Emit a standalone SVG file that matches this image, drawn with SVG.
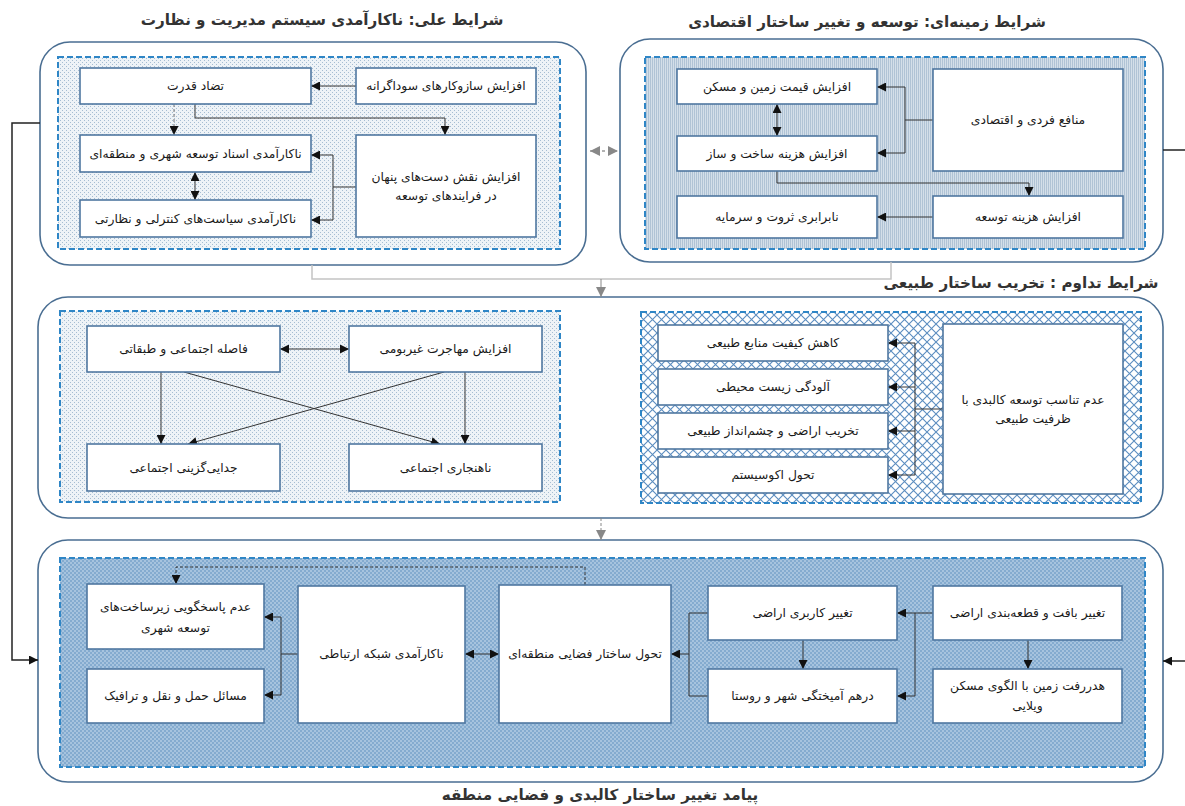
<svg xmlns="http://www.w3.org/2000/svg" width="1185" height="806" viewBox="0 0 1185 806">
<defs>
<style>
.panel{fill:#fff;stroke:#4a6e92;stroke-width:1.6}
.inner{stroke:#2f86c6;stroke-width:2;stroke-dasharray:6 3}
.box{fill:#fff;stroke:#4f77a0;stroke-width:1.6}
.t{font-family:"DejaVu Sans",sans-serif;font-size:12.3px;fill:#1a1a1a;text-anchor:middle;dominant-baseline:central}
.title{font-family:"DejaVu Sans",sans-serif;font-size:15.2px;font-weight:bold;fill:#333;text-anchor:middle;dominant-baseline:central}
.c{fill:none;stroke:#333;stroke-width:1}
.ce{fill:none;stroke:#333;stroke-width:1;marker-end:url(#ah)}
.cb{fill:none;stroke:#333;stroke-width:1;marker-end:url(#ah);marker-start:url(#ah)}
</style>
<marker id="ah" viewBox="0 0 10 10" refX="10" refY="5" markerWidth="9" markerHeight="9" orient="auto-start-reverse" markerUnits="userSpaceOnUse"><path d="M0,0 L10,5 L0,10 z" fill="#111"/></marker>
<marker id="ahg" viewBox="0 0 10 10" refX="10" refY="5" markerWidth="10" markerHeight="10" orient="auto-start-reverse" markerUnits="userSpaceOnUse"><path d="M0,0 L10,5 L0,10 z" fill="#888"/></marker>
<pattern id="pLight" width="4" height="4" patternUnits="userSpaceOnUse"><rect width="4" height="4" fill="#eef3f7"/><rect width="1" height="1" fill="#a6bdd2"/><rect x="2" y="2" width="1" height="1" fill="#a6bdd2"/></pattern>
<pattern id="pMid" width="2" height="2" patternUnits="userSpaceOnUse"><rect width="2" height="2" fill="#d4dfe9"/><rect width="1" height="2" fill="#b0c3d5"/></pattern>
<pattern id="pCross" width="9" height="9" patternUnits="userSpaceOnUse"><rect width="9" height="9" fill="#fff"/><path d="M0,0 L9,9 M9,0 L0,9" stroke="#5b8dc0" stroke-width="1.1"/></pattern>
<pattern id="pDark" width="4" height="4" patternUnits="userSpaceOnUse"><rect width="4" height="4" fill="#84abcf"/><rect width="2" height="2" fill="#a6c3de"/><rect x="2" y="2" width="2" height="2" fill="#a6c3de"/></pattern>
</defs>
<rect width="1185" height="806" fill="#fff"/>

<!-- titles -->
<text class="title" x="322" y="20">شرایط علی: ناکارآمدی سیستم مدیریت و نظارت</text>
<text class="title" x="867" y="22">شرایط زمینه‌ای: توسعه و تغییر ساختار اقتصادی</text>
<text class="title" x="1021" y="283">شرایط تداوم : تخریب ساختار طبیعی</text>
<text class="title" x="600" y="795">پیامد تغییر ساختار کالبدی و فضایی منطقه</text>

<!-- panels -->
<g id="panel-causal">
<rect class="panel" x="40" y="42" width="546" height="223" rx="30"/>
<rect class="inner" x="58" y="57" width="502" height="192" fill="url(#pLight)"/>
</g>
<g id="panel-context">
<rect class="panel" x="620" y="39" width="543" height="223" rx="30"/>
<rect class="inner" x="645" y="57" width="500" height="192" fill="url(#pMid)"/>
</g>
<g id="panel-persist">
<rect class="panel" x="38" y="297" width="1125" height="221" rx="30"/>
<rect class="inner" x="60" y="311" width="500" height="191" fill="url(#pLight)"/>
<rect class="inner" x="641" y="312" width="500" height="191" fill="url(#pCross)"/>
</g>
<g id="panel-outcome">
<rect class="panel" x="38" y="540" width="1125" height="242" rx="30"/>
<rect class="inner" x="60" y="558" width="1085" height="209" fill="url(#pDark)"/>
</g>

<!-- connectors -->
<g id="connectors">
<path class="ce" d="M356,86 H311"/>
<path d="M174,104 V135" fill="none" stroke="#777" stroke-width="1" stroke-dasharray="3 2" marker-end="url(#ah)"/>
<path class="ce" d="M195,104 V118 H445 V135"/>
<path class="cb" d="M195,172 V200"/>
<path class="c" d="M356,187 H333 M333,155 V220"/>
<path class="ce" d="M333,155 H311"/>
<path class="ce" d="M333,220 H311"/>
<path d="M590,151 H618" fill="none" stroke="#999" stroke-width="1.5" stroke-dasharray="3 3" marker-start="url(#ahg)" marker-end="url(#ahg)"/>

<path class="c" d="M933,120 H905 M905,87 V153"/>
<path class="ce" d="M905,87 H877"/>
<path class="ce" d="M905,153 H877"/>
<path class="cb" d="M777,104 V136"/>
<path class="ce" d="M777,171 V183 H1029 V196"/>
<path class="ce" d="M933,217 H877"/>

<path d="M312,265 V279 H891 V262" fill="none" stroke="#c4c4c4" stroke-width="1.5"/>
<path d="M601,279 V297" fill="none" stroke="#888" stroke-width="1" marker-end="url(#ahg)"/>

<path d="M40,123 H12 V660 H38" fill="none" stroke="#222" stroke-width="1.5" marker-end="url(#ah)"/>
<path d="M1163,150 H1185" fill="none" stroke="#222" stroke-width="1.5"/>
<path d="M1185,661 H1163" fill="none" stroke="#222" stroke-width="1.5" marker-end="url(#ah)"/>

<path class="cb" d="M280,349 H349"/>
<path class="ce" d="M161,372 V444"/>
<path class="ce" d="M465,372 V444"/>
<path class="ce" d="M184,372 L440,444"/>
<path class="ce" d="M444,372 L188,444"/>

<path class="c" d="M943,409 H915 M915,343 V475"/>
<path class="ce" d="M915,343 H888"/>
<path class="ce" d="M915,387 H888"/>
<path class="ce" d="M915,431 H888"/>
<path class="ce" d="M915,475 H888"/>

<path d="M601,518 V540" fill="none" stroke="#888" stroke-width="1" stroke-dasharray="3 2" marker-end="url(#ahg)"/>

<path class="c" d="M298,654 H281 M281,617 V695"/>
<path class="ce" d="M281,617 H264"/>
<path class="ce" d="M281,695 H264"/>
<path class="cb" d="M465,654 H499"/>
<path d="M585,585 V567 H176 V584" fill="none" stroke="#333" stroke-width="1" stroke-dasharray="3 2" marker-end="url(#ah)"/>
<path class="ce" d="M933,613 H897"/>
<path class="ce" d="M915,613 V696 H897"/>
<path class="ce" d="M1028,640 V669"/>
<path class="ce" d="M803,640 V669"/>
<path class="c" d="M708,613 H689 V696 H708"/>
<path class="ce" d="M689,654 H671"/>
</g>

<!-- nodes: causal -->
<g id="n-power"><rect class="box" x="80" y="68" width="231" height="36"/><text class="t" x="195.5" y="86">تضاد قدرت</text></g>
<g id="n-speculation"><rect class="box" x="356" y="68" width="180" height="36"/><text class="t" x="446" y="86">افزایش سازوکارهای سوداگرانه</text></g>
<g id="n-docs"><rect class="box" x="80" y="135" width="231" height="37"/><text class="t" x="195.5" y="153.5">ناکارآمدی اسناد توسعه شهری و منطقه‌ای</text></g>
<g id="n-policies"><rect class="box" x="80" y="200" width="231" height="37"/><text class="t" x="195.5" y="218.5">ناکارآمدی سیاست‌های کنترلی و نظارتی</text></g>
<g id="n-hidden"><rect class="box" x="356" y="135" width="180" height="102"/><text class="t" x="446" y="177">افزایش نقش دست‌های پنهان</text><text class="t" x="446" y="196">در فرایندهای توسعه</text></g>

<!-- nodes: context -->
<g id="n-landprice"><rect class="box" x="677" y="69" width="200" height="35"/><text class="t" x="777" y="86.5">افزایش قیمت زمین و مسکن</text></g>
<g id="n-buildcost"><rect class="box" x="677" y="136" width="200" height="35"/><text class="t" x="777" y="153.5">افزایش هزینه ساخت و ساز</text></g>
<g id="n-inequality"><rect class="box" x="677" y="196" width="200" height="42"/><text class="t" x="777" y="217">نابرابری ثروت و سرمایه</text></g>
<g id="n-interests"><rect class="box" x="933" y="69" width="190" height="102"/><text class="t" x="1028" y="120">منافع فردی و اقتصادی</text></g>
<g id="n-devcost"><rect class="box" x="933" y="196" width="190" height="42"/><text class="t" x="1028" y="217">افزایش هزینه توسعه</text></g>

<!-- nodes: persistence social -->
<g id="n-distance"><rect class="box" x="87" y="326" width="193" height="46"/><text class="t" x="183.5" y="349">فاصله اجتماعی و طبقاتی</text></g>
<g id="n-migration"><rect class="box" x="349" y="326" width="193" height="46"/><text class="t" x="445.5" y="349">افزایش مهاجرت غیربومی</text></g>
<g id="n-segregation"><rect class="box" x="87" y="444" width="193" height="47"/><text class="t" x="183.5" y="467.5">جدایی‌گزینی اجتماعی</text></g>
<g id="n-anomie"><rect class="box" x="349" y="444" width="193" height="47"/><text class="t" x="445.5" y="467.5">ناهنجاری اجتماعی</text></g>

<!-- nodes: persistence natural -->
<g id="n-resources"><rect class="box" x="658" y="325" width="230" height="36"/><text class="t" x="773" y="343">کاهش کیفیت منابع طبیعی</text></g>
<g id="n-pollution"><rect class="box" x="658" y="369" width="230" height="36"/><text class="t" x="773" y="387">آلودگی زیست محیطی</text></g>
<g id="n-landscape"><rect class="box" x="658" y="413" width="230" height="36"/><text class="t" x="773" y="431">تخریب اراضی و چشم‌انداز طبیعی</text></g>
<g id="n-ecosystem"><rect class="box" x="658" y="457" width="230" height="36"/><text class="t" x="773" y="475">تحول اکوسیستم</text></g>
<g id="n-mismatch"><rect class="box" x="943" y="324" width="180" height="170"/><text class="t" x="1033" y="400">عدم تناسب توسعه کالبدی با</text><text class="t" x="1033" y="419">ظرفیت طبیعی</text></g>

<!-- nodes: outcome -->
<g id="n-infra"><rect class="box" x="87" y="584" width="177" height="65"/><text class="t" x="175.5" y="607">عدم پاسخگویی زیرساخت‌های</text><text class="t" x="175.5" y="628">توسعه شهری</text></g>
<g id="n-traffic"><rect class="box" x="87" y="669" width="177" height="54"/><text class="t" x="175.5" y="696">مسائل حمل و نقل و ترافیک</text></g>
<g id="n-network"><rect class="box" x="298" y="586" width="167" height="137"/><text class="t" x="381.5" y="654">ناکارآمدی شبکه ارتباطی</text></g>
<g id="n-spatial"><rect class="box" x="499" y="585" width="172" height="138"/><text class="t" x="585" y="654">تحول ساختار فضایی منطقه‌ای</text></g>
<g id="n-landuse"><rect class="box" x="708" y="586" width="189" height="54"/><text class="t" x="802.5" y="613">تغییر کاربری اراضی</text></g>
<g id="n-mix"><rect class="box" x="708" y="669" width="189" height="54"/><text class="t" x="802.5" y="696">درهم آمیختگی شهر و روستا</text></g>
<g id="n-fabric"><rect class="box" x="933" y="586" width="189" height="54"/><text class="t" x="1027.5" y="613">تغییر بافت و قطعه‌بندی اراضی</text></g>
<g id="n-waste"><rect class="box" x="933" y="669" width="189" height="54"/><text class="t" x="1027.5" y="686">هدررفت زمین با الگوی مسکن</text><text class="t" x="1027.5" y="706">ویلایی</text></g>
</svg>
